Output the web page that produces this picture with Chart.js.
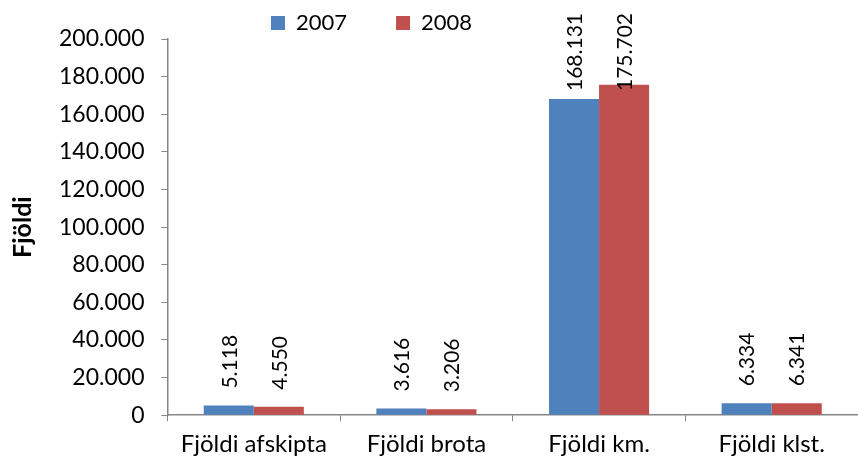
<!DOCTYPE html>
<html>
<head>
<meta charset="utf-8">
<script src="https://cdn.jsdelivr.net/npm/chart.js@4/dist/chart.umd.min.js"></script>
<style>
  body { margin: 0; background: #fff; }
</style>
</head>
<body>
<canvas id="chart" width="858" height="468"></canvas>
<script>
// Gögn
const categories = ['Fjöldi afskipta', 'Fjöldi brota', 'Fjöldi km.', 'Fjöldi klst.'];
const values2007 = [5118, 3616, 168131, 6334];
const values2008 = [4550, 3206, 175702, 6341];
const yTicks = [0, 20000, 40000, 60000, 80000, 100000, 120000, 140000, 160000, 180000, 200000];

const FONT = 'Lato, "Open Sans", sans-serif';

function fmt(v) {
    return String(v).replace(/\B(?=(\d{3})+(?!\d))/g, '.');
}

// gildi ofan á súlum, snúið lóðrétt (haldið innan myndar efst)
const barLabels = {
    id: 'barLabels',
    afterDatasetsDraw(chart) {
        const ctx = chart.ctx;
        ctx.save();
        ctx.font = '21px ' + FONT;
        ctx.fillStyle = '#000';
        ctx.textAlign = 'left';
        ctx.textBaseline = 'middle';
        chart.data.datasets.forEach((ds, i) => {
            chart.getDatasetMeta(i).data.forEach((bar, j) => {
                const txt = fmt(ds.data[j]);
                const w = ctx.measureText(txt).width;
                const y = Math.max(bar.y - 17, 13 + w);
                ctx.save();
                ctx.translate(bar.x, y);
                ctx.rotate(-Math.PI / 2);
                ctx.fillText(txt, 0, 1);
                ctx.restore();
            });
        });
        ctx.restore();
    }
};

// skýringin byrjar við x≈263 eins og í fyrirmyndinni
const legendShift = {
    id: 'legendShift',
    afterLayout(chart) {
        const lg = chart.legend;
        lg.left += 258;
        lg.right += 258;
        lg.top += 5;
        lg.bottom += 5;
    }
};

new Chart(document.getElementById('chart'), {
    type: 'bar',
    data: {
        labels: categories,
        datasets: [
            { label: '2007', data: values2007, backgroundColor: '#4F81BD' },
            { label: '2008', data: values2008, backgroundColor: '#C0504D' }
        ]
    },
    options: {
        responsive: false,
        animation: false,
        layout: { padding: { left: 8, right: 0, top: 2, bottom: 0 } },
        datasets: { bar: { categoryPercentage: 0.58, barPercentage: 1.0 } },
        plugins: {
            legend: {
                position: 'top',
                align: 'start',
                labels: {
                    boxWidth: 14,
                    boxHeight: 14,
                    padding: 5,
                    color: '#000',
                    font: { family: FONT, size: 22 },
                    generateLabels(chart) {
                        const items = Chart.defaults.plugins.legend.labels.generateLabels(chart);
                        // bil á milli liða
                        items.forEach((it, i) => {
                            if (i < items.length - 1) it.text += '\u2003\u2003\u2002';
                        });
                        return items;
                    }
                }
            },
            tooltip: { enabled: false }
        },
        scales: {
            x: {
                grid: {
                    offset: true,
                    drawOnChartArea: false,
                    tickLength: 6,
                    color: '#868686'
                },
                border: { color: '#868686', width: 1.5 },
                ticks: {
                    color: '#000',
                    padding: 9,
                    font: { family: FONT, size: 24 }
                }
            },
            y: {
                min: 0,
                max: 200000,
                afterBuildTicks(axis) {
                    axis.ticks = yTicks.map(v => ({ value: v }));
                },
                grid: {
                    drawOnChartArea: false,
                    tickLength: 6,
                    color: '#868686'
                },
                border: { color: '#868686', width: 1.5 },
                ticks: {
                    color: '#000',
                    padding: 17,
                    font: { family: FONT, size: 23 },
                    callback: v => fmt(v)
                },
                title: {
                    display: true,
                    text: 'Fjöldi',
                    color: '#000',
                    padding: { top: 0, bottom: 4 },
                    font: { family: FONT, size: 25, weight: 'bold' }
                }
            }
        }
    },
    plugins: [barLabels, legendShift]
});
</script>
</body>
</html>
